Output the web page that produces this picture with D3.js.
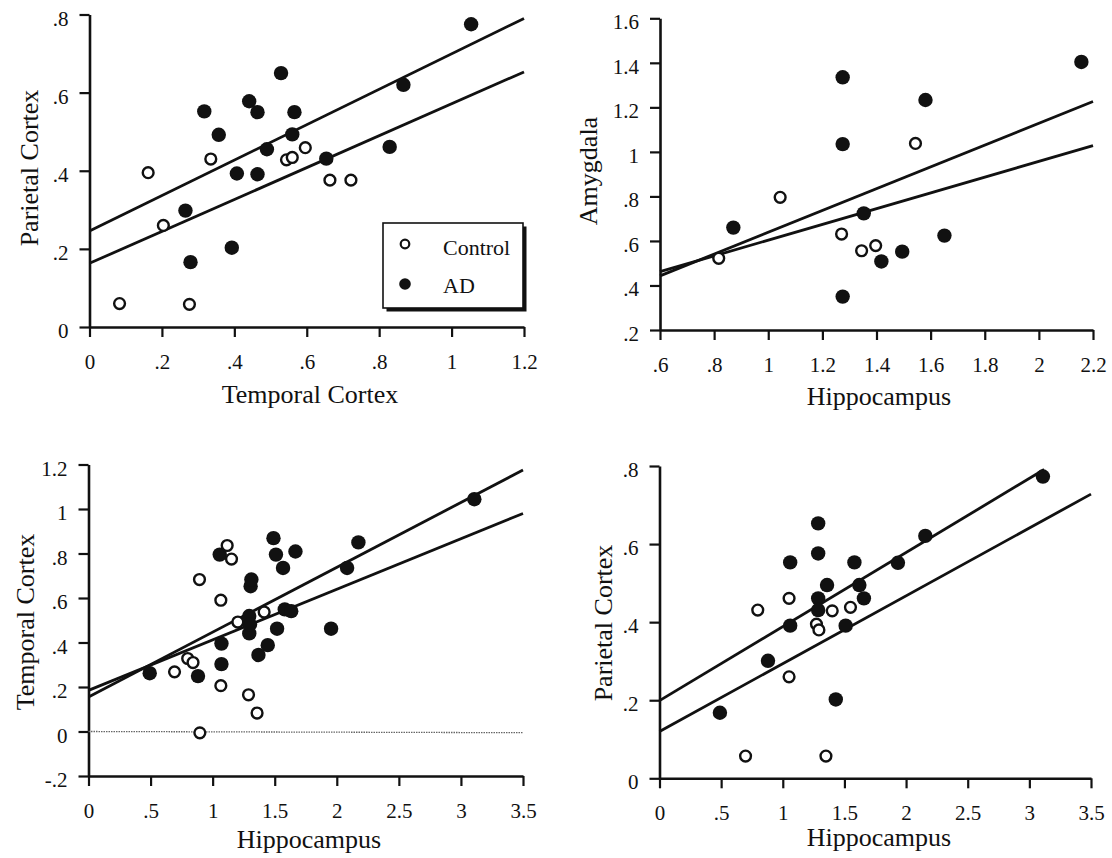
<!DOCTYPE html>
<meta charset="utf-8">
<head>
    <title>Regional correlations, Control vs AD</title>
</head>
<style>
    body { margin: 0; background: #fff; }
    text { font-family: "Liberation Serif", "Times New Roman", serif; fill: #111; }
</style>
<body>
<div id="chart"></div>

<script src="https://d3js.org/d3.v7.min.js"></script>
<script>

// ---- panel 1: temporal cortex (x) vs parietal cortex (y)
var tempParControl = [[.083,.060],[.162,.395],[.204,.260],[.276,.058],[.335,.430],
    [.544,.428],[.560,.434],[.596,.459],[.664,.376],[.722,.376]];
var tempParAD = [[.265,.298],[.279,.166],[.317,.552],[.357,.492],[.393,.203],[.407,.393],
    [.441,.578],[.464,.550],[.464,.391],[.490,.455],[.529,.650],[.560,.493],[.566,.550],
    [.654,.431],[.829,.461],[.867,.620],[1.054,.775]];
var tempParLines = [[[0,.246],[1.2,.790]], [[0,.163],[1.2,.653]]];
var p1XTicks = [0,.2,.4,.6,.8,1,1.2];
var p1XLabels = ["0",".2",".4",".6",".8","1","1.2"];
var p1YTicks = [0,.2,.4,.6,.8];
var p1YLabels = ["0",".2",".4",".6",".8"];

// ---- panel 2: hippocampus (x) vs amygdala (y)
var hipAmyControl = [[.817,.522],[1.044,.796],[1.271,.631],[1.345,.556],[1.397,.579],[1.544,1.038]];
var hipAmyAD = [[.871,.660],[1.275,1.335],[1.275,1.035],[1.275,.350],[1.353,.724],[1.418,.508],
    [1.495,.552],[1.581,1.233],[1.651,.624],[2.157,1.404]];
var hipAmyLines = [[[.6,.443],[2.2,1.226]], [[.6,.462],[2.2,1.028]]];
var p2XTicks = [.6,.8,1,1.2,1.4,1.6,1.8,2,2.2];
var p2XLabels = [".6",".8","1","1.2","1.4","1.6","1.8","2","2.2"];
var p2YTicks = [.2,.4,.6,.8,1,1.2,1.4,1.6];
var p2YLabels = [".2",".4",".6",".8","1","1.2","1.4","1.6"];

// ---- panel 3: hippocampus (x) vs temporal cortex (y)
var hipTempControl = [[.693,.268],[.799,.328],[.842,.310],[.894,.683],[.897,-.006],[1.066,.590],
    [1.066,.206],[1.117,.836],[1.152,.775],[1.203,.492],[1.289,.165],[1.358,.083],[1.415,.537]];
var hipTempAD = [[.493,.262],[.882,.249],[1.057,.795],[1.071,.395],[1.071,.303],[1.295,.441],
    [1.295,.519],[1.301,.481],[1.306,.653],[1.312,.683],[1.369,.344],[1.444,.388],[1.490,.869],
    [1.510,.795],[1.519,.462],[1.567,.735],[1.581,.549],[1.633,.541],[1.667,.809],[1.954,.462],
    [2.083,.735],[2.174,.850],[3.108,1.044]];
var hipTempLines = [[[0,.155],[3.5,1.175]], [[0,.185],[3.5,.980]]];
var p3XTicks = [0,.5,1,1.5,2,2.5,3,3.5];
var p3XLabels = ["0",".5","1","1.5","2","2.5","3","3.5"];
var p3YTicks = [-.2,0,.2,.4,.6,.8,1,1.2];
var p3YLabels = ["-.2","0",".2",".4",".6",".8","1","1.2"];

// ---- panel 4: hippocampus (x) vs parietal cortex (y)
var hipParControl = [[.698,.057],[.797,.431],[1.051,.260],[1.051,.461],[1.273,.395],[1.293,.380],
    [1.350,.057],[1.401,.429],[1.549,.438]];
var hipParAD = [[.490,.168],[.880,.301],[1.060,.553],[1.060,.391],[1.287,.653],[1.287,.576],
    [1.287,.461],[1.287,.431],[1.359,.495],[1.430,.202],[1.510,.391],[1.581,.553],[1.621,.495],
    [1.658,.461],[1.934,.552],[2.156,.621],[3.110,.773]];
var hipParLines = [[[0,.199],[3.12,.791]], [[0,.120],[3.5,.728]]];
var p4XTicks = p3XTicks;
var p4XLabels = p3XLabels;
var p4YTicks = [0,.2,.4,.6,.8];
var p4YLabels = ["0",".2",".4",".6",".8"];

var legendLabels = ["Control", "AD"];

var svg = d3.select("#chart")
  .append("svg")
    .attr("width", 1112)
    .attr("height", 858);

function drawPanel(p) {
    var x = d3.scaleLinear().domain(p.xDomain).range(p.xRange);
    var y = d3.scaleLinear().domain(p.yDomain).range(p.yRange);
    var g = svg.append("g");

    var xAxis = g.append("g")
        .attr("transform", "translate(0," + p.yRange[0] + ")")
        .call(d3.axisBottom(x)
            .tickValues(p.xTicks)
            .tickFormat(function(d, i) { return p.xLabels[i]; })
            .tickSize(10).tickSizeOuter(0).tickPadding(17));

    var yAxis = g.append("g")
        .attr("transform", "translate(" + p.xRange[0] + ",0)")
        .call(d3.axisLeft(y)
            .tickValues(p.yTicks)
            .tickFormat(function(d, i) { return p.yLabels[i]; })
            .tickSize(10).tickSizeOuter(0).tickPadding(11));

    [xAxis, yAxis].forEach(function(a) {
        a.select(".domain").attr("stroke", "#111").attr("stroke-width", 2.6);
        a.selectAll(".tick line").attr("stroke", "#111").attr("stroke-width", 2.2);
        a.selectAll(".tick text")
            .style("font-family", "'Liberation Serif', 'Times New Roman', serif")
            .style("font-size", "21px")
            .attr("fill", "#111");
    });
    yAxis.selectAll(".tick text").attr("dy", "0.5em");

    if (p.zeroLine) {
        g.append("line")
            .attr("x1", x(p.xDomain[0])).attr("x2", x(p.xDomain[1]))
            .attr("y1", y(0)).attr("y2", y(0) + 1.2)
            .attr("stroke", "#666")
            .attr("stroke-width", 1.3)
            .attr("stroke-dasharray", "1.5,1");
    }

    var line = d3.line()
        .x(function(d) { return x(d[0]); })
        .y(function(d) { return y(d[1]); });
    g.selectAll(".fit")
        .data(p.lines)
      .enter().append("path")
        .attr("fill", "none")
        .attr("stroke", "#111")
        .attr("stroke-width", 2.8)
        .attr("d", line);

    g.selectAll(".ad")
        .data(p.ad)
      .enter().append("circle")
        .attr("cx", function(d) { return x(d[0]); })
        .attr("cy", function(d) { return y(d[1]); })
        .attr("r", 7.2)
        .attr("fill", "#111");

    g.selectAll(".ctl")
        .data(p.control)
      .enter().append("circle")
        .attr("cx", function(d) { return x(d[0]); })
        .attr("cy", function(d) { return y(d[1]); })
        .attr("r", 5.4)
        .attr("fill", "#fff")
        .attr("stroke", "#111")
        .attr("stroke-width", 2.4);

    g.append("text")
        .attr("x", p.xTitlePos[0])
        .attr("y", p.xTitlePos[1])
        .attr("text-anchor", "middle")
        .style("font-size", "26px")
        .text(p.xTitle);

    g.append("text")
        .attr("transform", "translate(" + p.yTitlePos[0] + "," + p.yTitlePos[1] + ") rotate(-90)")
        .attr("text-anchor", "middle")
        .style("font-size", "26px")
        .text(p.yTitle);
}

drawPanel({
    xDomain: [0, 1.2], xRange: [89.5, 524],
    yDomain: [0, .8], yRange: [327, 14.5],
    xTicks: p1XTicks, xLabels: p1XLabels, yTicks: p1YTicks, yLabels: p1YLabels,
    control: tempParControl, ad: tempParAD, lines: tempParLines,
    xTitle: "Temporal Cortex", xTitlePos: [310, 403],
    yTitle: "Parietal Cortex", yTitlePos: [38, 168]
});

drawPanel({
    xDomain: [.6, 2.2], xRange: [660, 1093],
    yDomain: [.2, 1.6], yRange: [330, 18.3],
    xTicks: p2XTicks, xLabels: p2XLabels, yTicks: p2YTicks, yLabels: p2YLabels,
    control: hipAmyControl, ad: hipAmyAD, lines: hipAmyLines,
    xTitle: "Hippocampus", xTitlePos: [879, 405],
    yTitle: "Amygdala", yTitlePos: [597, 171]
});

drawPanel({
    xDomain: [0, 3.5], xRange: [88.5, 523],
    yDomain: [-.2, 1.2], yRange: [776, 464.5],
    xTicks: p3XTicks, xLabels: p3XLabels, yTicks: p3YTicks, yLabels: p3YLabels,
    control: hipTempControl, ad: hipTempAD, lines: hipTempLines, zeroLine: true,
    xTitle: "Hippocampus", xTitlePos: [309, 848],
    yTitle: "Temporal Cortex", yTitlePos: [34, 622]
});

drawPanel({
    xDomain: [0, 3.5], xRange: [659.5, 1091],
    yDomain: [0, .8], yRange: [778.3, 466],
    xTicks: p4XTicks, xLabels: p4XLabels, yTicks: p4YTicks, yLabels: p4YLabels,
    control: hipParControl, ad: hipParAD, lines: hipParLines,
    xTitle: "Hippocampus", xTitlePos: [879, 846],
    yTitle: "Parietal Cortex", yTitlePos: [612, 623]
});

// legend box with drop shadow (top-left panel)
var legend = svg.append("g").attr("transform", "translate(383,223)");
legend.append("rect")
    .attr("x", 3.5).attr("y", 3.5)
    .attr("width", 140).attr("height", 85)
    .attr("fill", "#111");
legend.append("rect")
    .attr("width", 140).attr("height", 85)
    .attr("fill", "#fff")
    .attr("stroke", "#111")
    .attr("stroke-width", 1.6);
legend.append("circle")
    .attr("cx", 22).attr("cy", 21).attr("r", 4.3)
    .attr("fill", "#fff").attr("stroke", "#111").attr("stroke-width", 2.2);
legend.append("circle")
    .attr("cx", 22).attr("cy", 61).attr("r", 5.8)
    .attr("fill", "#111");
legend.selectAll(".lab")
    .data(legendLabels)
  .enter().append("text")
    .attr("x", 60)
    .attr("y", function(d, i) { return 32 + i * 38; })
    .style("font-size", "22px")
    .text(function(d) { return d; });

</script>
</body>
